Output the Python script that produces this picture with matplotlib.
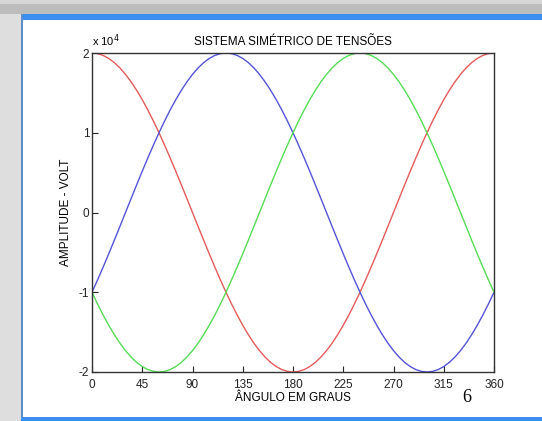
import matplotlib.pyplot as plt
from matplotlib.patches import Rectangle
from matplotlib.ticker import FuncFormatter

# angle in degrees, sampled every 5 degrees
angulo = list(range(0, 361, 5))

fase_a = [20000, 19924, 19696, 19319, 18794, 18126, 17321, 16383, 15321, 14142,
          12856, 11472, 10000, 8452, 6840, 5176, 3473, 1743, 0,
          -1743, -3473, -5176, -6840, -8452, -10000, -11472, -12856, -14142,
          -15321, -16383, -17321, -18126, -18794, -19319, -19696, -19924, -20000,
          -19924, -19696, -19319, -18794, -18126, -17321, -16383, -15321, -14142,
          -12856, -11472, -10000, -8452, -6840, -5176, -3473, -1743, 0,
          1743, 3473, 5176, 6840, 8452, 10000, 11472, 12856, 14142,
          15321, 16383, 17321, 18126, 18794, 19319, 19696, 19924, 20000]

fase_b = [-10000, -8452, -6840, -5176, -3473, -1743, 0,
          1743, 3473, 5176, 6840, 8452, 10000, 11472, 12856, 14142,
          15321, 16383, 17321, 18126, 18794, 19319, 19696, 19924, 20000,
          19924, 19696, 19319, 18794, 18126, 17321, 16383, 15321, 14142,
          12856, 11472, 10000, 8452, 6840, 5176, 3473, 1743, 0,
          -1743, -3473, -5176, -6840, -8452, -10000, -11472, -12856, -14142,
          -15321, -16383, -17321, -18126, -18794, -19319, -19696, -19924, -20000,
          -19924, -19696, -19319, -18794, -18126, -17321, -16383, -15321, -14142,
          -12856, -11472, -10000]

fase_c = [-10000, -11472, -12856, -14142, -15321, -16383, -17321, -18126,
          -18794, -19319, -19696, -19924, -20000,
          -19924, -19696, -19319, -18794, -18126, -17321, -16383, -15321, -14142,
          -12856, -11472, -10000, -8452, -6840, -5176, -3473, -1743, 0,
          1743, 3473, 5176, 6840, 8452, 10000, 11472, 12856, 14142,
          15321, 16383, 17321, 18126, 18794, 19319, 19696, 19924, 20000,
          19924, 19696, 19319, 18794, 18126, 17321, 16383, 15321, 14142,
          12856, 11472, 10000, 8452, 6840, 5176, 3473, 1743, 0,
          -1743, -3473, -5176, -6840, -8452, -10000]

xticks = [0, 45, 90, 135, 180, 225, 270, 315, 360]
yticks = [-20000, -10000, 0, 10000, 20000]

plt.rcParams['font.family'] = ['Liberation Sans', 'DejaVu Sans']

fig = plt.figure(figsize=(5.42, 4.21), dpi=100)
W, H = 542, 421

def px_rect(x0, y0, x1, y1, color):
    # rectangle given in pixel coords from top-left
    fig.patches.append(Rectangle((x0 / W, 1 - y1 / H), (x1 - x0) / W, (y1 - y0) / H,
                                 transform=fig.transFigure, color=color, zorder=0,
                                 linewidth=0))

# slide frame
px_rect(0, 0, 21, H, '#dedede')
px_rect(0, 0, W, 4, '#d6d6d6')
px_rect(0, 4, W, 14, '#bdbdbd')
px_rect(21, 14, W, 20, '#3b8ff0')
px_rect(21, 14, 23, H, '#5f8fca')
px_rect(21, 417, W, H, '#3b8ff0')

ax = fig.add_axes([92 / W, 49 / H, 402 / W, 319 / H])
ax.plot(angulo, fase_a, color='#e65a5a', linewidth=1)
ax.plot(angulo, fase_b, color='#5454d8', linewidth=1)
ax.plot(angulo, fase_c, color='#54dc54', linewidth=1)

ax.set_xlim(0, 360)
ax.set_ylim(-20000, 20000)
ax.set_xticks(xticks)
ax.set_yticks(yticks)
ax.yaxis.set_major_formatter(FuncFormatter(lambda v, p: f"{v / 10000:g}"))
ax.tick_params(direction='in', length=4, labelsize=8.5, colors='#222222')
ax.tick_params(axis='x', pad=5)
ax.tick_params(axis='y', pad=2)
for s in ax.spines.values():
    s.set_color('#333333')
    s.set_linewidth(1)

ax.set_title('SISTEMA SIMÉTRICO DE TENSÕES', fontsize=8.5, pad=6)
ax.set_xlabel('ÂNGULO EM GRAUS', fontsize=8.5, labelpad=1)
ax.set_ylabel('AMPLITUDE - VOLT', fontsize=8.5, labelpad=5)
ax.text(0, 1.012, 'x 10$^4$', transform=ax.transAxes, fontsize=8, ha='left', va='bottom')

fig.text(467 / W, 1 - 397 / H, '6', fontsize=13, family='Liberation Serif',
         ha='center', va='center')

fig.savefig('out.png', dpi=100)
